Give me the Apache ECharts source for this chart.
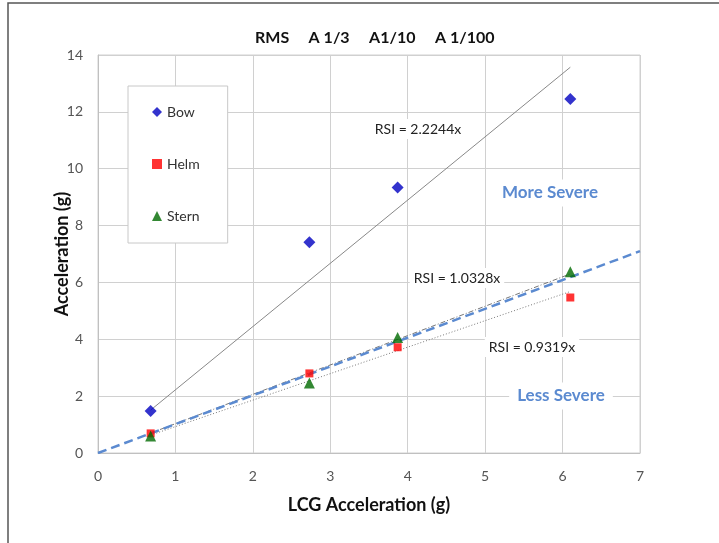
<!DOCTYPE html>
<html>
<head>
<meta charset="utf-8">
<script src="https://cdn.jsdelivr.net/npm/echarts@6/dist/echarts.min.js"></script>
<style>
  html, body { margin: 0; padding: 0; background: #fff; }
  #chart { width: 719px; height: 543px; }
</style>
</head>
<body>
<div id="chart"></div>
<script>
// LCG acceleration (x) vs. acceleration at each location (y)
var lcg = [0.68, 2.73, 3.87, 6.10];
var bow = [1.48, 7.41, 9.34, 12.45];
var helm = [0.69, 2.80, 3.72, 5.47];
var stern = [0.60, 2.46, 4.06, 6.38];

// trend line end points
var bowTrend = [[0.68, 1.51], [6.10, 13.57]];
var sternTrend = [[0.68, 0.70], [6.10, 6.30]];
var helmTrend = [[0.68, 0.63], [6.10, 5.68]];
var severityLine = [[0, 0], [7, 7.1]];

var font = 'Lato, "Open Sans", sans-serif';

function pairs(xs, ys) {
  return xs.map(function (x, i) { return [x, ys[i]]; });
}

window.onload = function () {
  var myChart = echarts.init(document.getElementById('chart'));
  var option = {
    animation: false,
    title: {
      text: 'RMS     A 1/3     A1/10     A 1/100',
      left: 250,
      top: 25,
      textStyle: { fontFamily: font, fontSize: 16, fontWeight: 'bold', color: '#111' }
    },
    legend: {
      data: ['Bow', 'Helm', 'Stern'],
      orient: 'vertical',
      left: 128,
      top: 86,
      padding: [19, 28, 20, 24],
      itemGap: 38,
      itemWidth: 10,
      itemHeight: 10,
      backgroundColor: '#fff',
      borderColor: '#c8c8c8',
      borderWidth: 1,
      textStyle: { fontFamily: font, fontSize: 14, color: '#333' }
    },
    grid: { left: 98, right: 79, top: 55, bottom: 90, show: true, borderColor: '#d0d0d0', borderWidth: 1 },
    xAxis: {
      type: 'value', min: 0, max: 7, interval: 1,
      name: 'LCG Acceleration (g)', nameLocation: 'middle', nameGap: 43,
      nameTextStyle: { fontFamily: font, fontSize: 18, fontWeight: 'bold', color: '#111' },
      axisLine: { lineStyle: { color: '#c0c0c0' } },
      axisTick: { show: false },
      axisLabel: { margin: 16, fontFamily: font, fontSize: 14, color: '#555' },
      splitLine: { lineStyle: { color: '#d0d0d0' } }
    },
    yAxis: {
      type: 'value', min: 0, max: 14, interval: 2,
      name: 'Acceleration (g)', nameLocation: 'middle', nameGap: 27, nameMoveOverlap: false,
      nameTextStyle: { fontFamily: font, fontSize: 18, fontWeight: 'bold', color: '#111' },
      axisLine: { show: true, lineStyle: { color: '#c0c0c0' } },
      axisTick: { show: false },
      axisLabel: { margin: 15, fontFamily: font, fontSize: 14, color: '#555' },
      splitLine: { lineStyle: { color: '#d0d0d0' } }
    },
    series: [
      {
        name: 'severity', type: 'line', data: severityLine, symbol: 'none', z: 3,
        lineStyle: { color: '#5b8ad0', width: 2.5, type: [9, 5] }
      },
      {
        name: 'bowTrend', type: 'line', data: bowTrend, symbol: 'none', z: 2,
        lineStyle: { color: '#888', width: 1 }
      },
      {
        name: 'sternTrend', type: 'line', data: sternTrend, symbol: 'none', z: 2,
        lineStyle: { color: '#777', width: 1, type: [5, 2, 1, 2] }
      },
      {
        name: 'helmTrend', type: 'line', data: helmTrend, symbol: 'none', z: 2,
        lineStyle: { color: '#777', width: 1, type: [1, 2] }
      },
      {
        name: 'Bow', type: 'scatter', data: pairs(lcg, bow), symbol: 'diamond', symbolSize: 12, z: 5,
        itemStyle: { color: '#0000c0' }
      },
      {
        name: 'Helm', type: 'scatter', data: pairs(lcg, helm), symbol: 'rect', symbolSize: 8, z: 5,
        itemStyle: { color: '#ff0000' }
      },
      {
        name: 'Stern', type: 'scatter', data: pairs(lcg, stern), symbol: 'triangle', symbolSize: 11, z: 6,
        itemStyle: { color: '#006a00' }
      }
    ],
    graphic: [
      { type: 'rect', shape: { x: 8, y: 3, width: 760, height: 600 }, silent: true, z: 0,
        style: { fill: 'none', stroke: '#555', lineWidth: 1.5 } },
      { type: 'text', x: 418, y: 129, z: 10, style: { text: 'RSI = 2.2244x', font: '14px ' + font, fill: '#222',
        align: 'center', verticalAlign: 'middle', backgroundColor: '#fff', padding: [3, 4] } },
      { type: 'text', x: 457, y: 278, z: 10, style: { text: 'RSI = 1.0328x', font: '14px ' + font, fill: '#222',
        align: 'center', verticalAlign: 'middle', backgroundColor: '#fff', padding: [3, 4] } },
      { type: 'text', x: 532, y: 347, z: 10, style: { text: 'RSI = 0.9319x', font: '14px ' + font, fill: '#222',
        align: 'center', verticalAlign: 'middle', backgroundColor: '#fff', padding: [3, 4] } },
      { type: 'text', x: 550, y: 193, z: 10, style: { text: 'More Severe', font: 'bold 17px ' + font, fill: '#5b8ad0',
        align: 'center', verticalAlign: 'middle', backgroundColor: '#fff', padding: [5, 8] } },
      { type: 'text', x: 561, y: 396, z: 10, style: { text: 'Less Severe', font: 'bold 17px ' + font, fill: '#5b8ad0',
        align: 'center', verticalAlign: 'middle', backgroundColor: '#fff', padding: [5, 8] } }
    ]
  };
  myChart.setOption(option);
};
</script>
</body>
</html>
